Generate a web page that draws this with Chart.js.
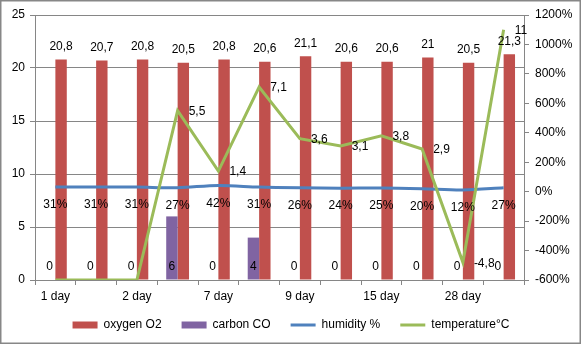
<!DOCTYPE html>
<html>
<head>
<meta charset="utf-8">
<script src="https://cdn.jsdelivr.net/npm/chart.js@4/dist/chart.umd.min.js"></script>
<style>
  html, body { margin: 0; padding: 0; background: #fff; }
  #wrap { width: 582px; height: 347px; position: relative; }
</style>
</head>
<body>
<div id="wrap"><canvas id="c" width="582" height="347"></canvas></div>
<script>
// ---- data ----
const categories = ['1 day', '', '2 day', '', '7 day', '', '9 day', '', '15 day', '', '28 day', ''];
const oxygen = [20.8, 20.7, 20.8, 20.5, 20.8, 20.6, 21.1, 20.6, 20.6, 21, 20.5, 21.3];
const carbon = [0, 0, 0, 6, 0, 4, 0, 0, 0, 0, 0, 0];
const humidity = [0.31, 0.31, 0.31, 0.27, 0.42, 0.31, 0.26, 0.24, 0.25, 0.20, 0.12, 0.27];
const temperature = [-6, -6, -6, 5.5, 1.4, 7.1, 3.6, 3.1, 3.8, 2.9, -4.8, 11];
const leftTicks = [0, 5, 10, 15, 20, 25];
const rightTicks = [-6, -4, -2, 0, 2, 4, 6, 8, 10, 12];

const FONT = '"Liberation Sans", Arial, sans-serif';
const GRID = '#868686';
const fmt = v => String(v).replace('.', ',');
const pct = v => Math.round(v * 100) + '%';

const labelPlugin = {
  id: 'labels',
  afterLayout(chart) {
    if (chart.legend) {
      chart.legend.top -= 5;
      chart.legend.bottom -= 5;
    }
  },
  beforeDraw(chart) {
    const ctx = chart.ctx;
    ctx.save();
    ctx.strokeStyle = '#878787';
    ctx.lineWidth = 1.5;
    ctx.strokeRect(0.75, 0.75, 579.5, 342.5);
    ctx.restore();
  },
  afterDatasetsDraw(chart) {
    const ctx = chart.ctx;
    ctx.save();
    ctx.font = '12px ' + FONT;
    ctx.fillStyle = '#000';
    ctx.textBaseline = 'middle';
    ctx.textAlign = 'center';
    chart.getDatasetMeta(0).data.forEach((el, i) => {
      ctx.fillText(fmt(oxygen[i]), el.x, el.y - 13);
    });
    chart.getDatasetMeta(1).data.forEach((el, i) => {
      ctx.fillText(fmt(carbon[i]), el.x, el.base - 13);
    });
    chart.getDatasetMeta(2).data.forEach((el, i) => {
      ctx.fillText(pct(humidity[i]), el.x, el.y + 18);
    });
    ctx.textAlign = 'left';
    chart.getDatasetMeta(3).data.forEach((el, i) => {
      if (temperature[i] > -6) ctx.fillText(fmt(temperature[i]), el.x + 11, el.y + 1);
    });
    ctx.restore();
  }
};

new Chart(document.getElementById('c'), {
  type: 'bar',
  data: {
    labels: categories,
    datasets: [
      { label: 'oxygen O2', data: oxygen, backgroundColor: '#C0504D', yAxisID: 'y', order: 3,
        barPercentage: 1, categoryPercentage: 0.56 },
      { label: 'carbon CO', data: carbon, backgroundColor: '#8064A2', yAxisID: 'y', order: 2,
        barPercentage: 1, categoryPercentage: 0.56 },
      { type: 'line', label: 'humidity %', data: humidity, borderColor: '#4F81BD', backgroundColor: '#4F81BD',
        borderWidth: 3, pointRadius: 0, tension: 0.3, yAxisID: 'y2', order: 1 },
      { type: 'line', label: 'temperature°C', data: temperature, borderColor: '#9BBB59', backgroundColor: '#9BBB59',
        borderWidth: 3, pointRadius: 0, tension: 0, yAxisID: 'y2', order: 0 }
    ]
  },
  options: {
    responsive: false,
    animation: false,
    events: [],
    layout: { padding: { top: 15, left: 0, right: 0, bottom: 1 } },
    plugins: {
      tooltip: { enabled: false },
      legend: {
        position: 'bottom',
        labels: {
          font: { family: FONT, size: 12 },
          color: '#000',
          usePointStyle: true,
          pointStyleWidth: 25,
          boxHeight: 7,
          padding: 20,
          sort: (a, b) => a.datasetIndex - b.datasetIndex,
          generateLabels(chart) {
            return chart.data.datasets.map((ds, i) => {
              const isLine = ds.type === 'line';
              return {
                text: ds.label,
                datasetIndex: i,
                fillStyle: isLine ? ds.borderColor : ds.backgroundColor,
                strokeStyle: isLine ? ds.borderColor : ds.backgroundColor,
                lineWidth: isLine ? 3 : 0,
                pointStyle: isLine ? 'line' : 'rect',
                fontColor: '#000',
                hidden: false
              };
            });
          }
        }
      }
    },
    scales: {
      x: {
        offset: true,
        grid: { offset: true, drawOnChartArea: false, drawTicks: true, tickLength: 5, color: GRID },
        border: { color: GRID },
        ticks: {
          autoSkip: false, maxRotation: 0, minRotation: 0, padding: 4,
          color: '#000', font: { family: FONT, size: 12 },
          callback: (v, i) => categories[i]
        },
        afterFit: s => { s.height = 24; }
      },
      y: {
        position: 'left',
        min: leftTicks[0], max: leftTicks[leftTicks.length - 1],
        afterBuildTicks: s => { s.ticks = leftTicks.map(v => ({ value: v })); },
        grid: { color: GRID, tickLength: 5 },
        border: { color: GRID },
        ticks: { color: '#000', font: { family: FONT, size: 12 }, padding: 5 },
        afterFit: s => { s.width = 35; }
      },
      y2: {
        position: 'right',
        min: rightTicks[0], max: rightTicks[rightTicks.length - 1],
        afterBuildTicks: s => { s.ticks = rightTicks.map(v => ({ value: v })); },
        grid: { drawOnChartArea: false, color: GRID, tickLength: 5 },
        border: { color: GRID },
        ticks: { color: '#000', font: { family: FONT, size: 12 }, padding: 6, callback: v => pct(v) },
        afterFit: s => { s.width = 58; }
      }
    }
  },
  plugins: [labelPlugin]
});
</script>
</body>
</html>
